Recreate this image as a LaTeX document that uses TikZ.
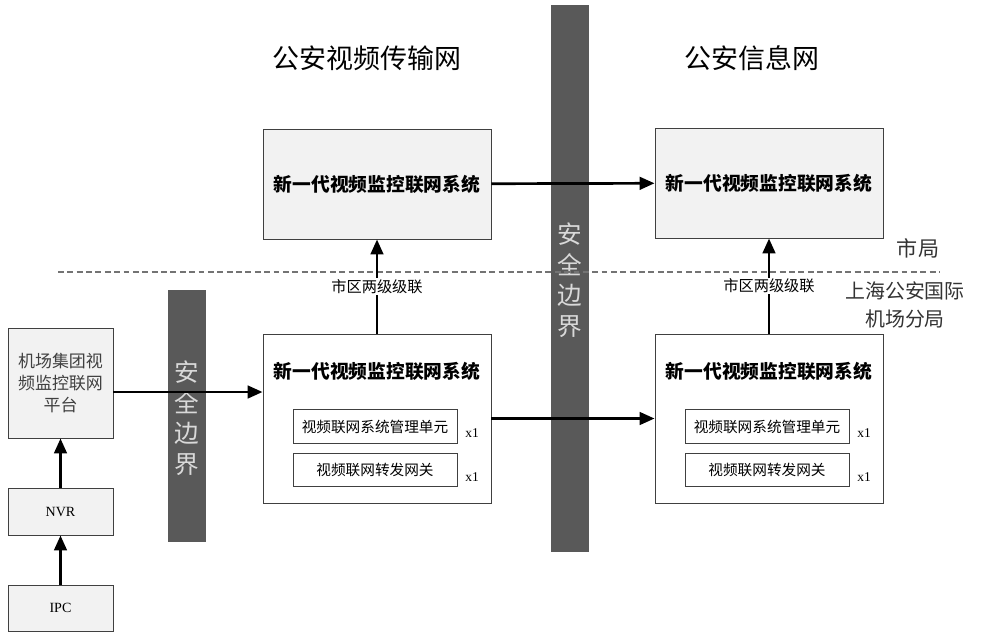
\documentclass[tikz,border=0pt]{standalone}
\usepackage{fontspec}
\setmainfont{Liberation Serif}
\newfontfamily\cjk{Noto Sans CJK SC}
\usetikzlibrary{arrows.meta}
\definecolor{boxgray}{HTML}{F2F2F2}
\definecolor{bargray}{HTML}{595959}
\definecolor{bartext}{HTML}{D9D9D9}
\begin{document}
\begin{tikzpicture}[x=0.03cm, y=-0.03cm,
  sys/.style={draw=black!75, line width=0.8pt, minimum width=6.84cm,
    font=\cjk\bfseries\fontsize{16}{18}\selectfont},
  sub/.style={draw=black!75, line width=0.8pt, minimum width=4.92cm, minimum height=1cm,
    font=\cjk\fontsize{12.5}{14}\selectfont},
  dev/.style={draw=black!75, line width=0.8pt, fill=boxgray, minimum width=3.15cm},
  bar/.style={fill=bargray},
  bartxt/.style={text=bartext, align=center, font=\cjk\fontsize{21}{26}\selectfont},
  arr/.style={line width=2.3pt, -{Triangle[length=0.45cm,width=0.38cm]}},
  lbl/.style={fill=white, inner sep=1pt, font=\cjk\fontsize{13}{15}\selectfont},
  cnt/.style={font=\fontsize{11.5}{13}\selectfont}
]
\useasboundingbox (0,0) rectangle (986,634);

% headings
\node[font=\cjk\fontsize{23}{26}\selectfont] (h1) at (367,58) {公安视频传输网};
\node[font=\cjk\fontsize{23}{26}\selectfont] (h2) at (752,58) {公安信息网};

% security boundaries
\fill[bar] (551,5) rectangle (589,552);
\node[bartxt] (b1) at (570,280) {安\\全\\边\\界};
\fill[bar] (168,290) rectangle (206,542);
\node[bartxt] (b2) at (187,418) {安\\全\\边\\界};

% level line
\draw[black!55, line width=0.9pt, dash pattern=on 5pt off 3pt] (58,272) -- (940,272);
\node[text=black!80, font=\cjk\fontsize{18}{20}\selectfont] (sj) at (918,248) {市局};
\node[text=black!80, align=center, font=\cjk\fontsize{17}{24}\selectfont] (fj) at (905,305) {上海公安国际\\机场分局};

% city level
\node[sys, fill=boxgray, minimum height=3.3cm] (tl) at (377,184) {新一代视频监控联网系统};
\node[sys, fill=boxgray, minimum height=3.3cm] (tr) at (769,183) {新一代视频监控联网系统};

% branch level
\node[sys, fill=white, minimum height=5.07cm] (bl) at (377,418.5) {};
\node[font=\cjk\bfseries\fontsize{16}{18}\selectfont] (blt) at (377,371) {新一代视频监控联网系统};
\node[sub] (bl1) at (375,426.5) {视频联网系统管理单元};
\node[sub] (bl2) at (375,470) {视频联网转发网关};
\node[cnt] (blc1) at (472,433) {x1};
\node[cnt] (blc2) at (472,477) {x1};

\node[sys, fill=white, minimum height=5.07cm] (br) at (769,418.5) {};
\node[font=\cjk\bfseries\fontsize{16}{18}\selectfont] (brt) at (769,371) {新一代视频监控联网系统};
\node[sub] (br1) at (767,426.5) {视频联网系统管理单元};
\node[sub] (br2) at (767,470) {视频联网转发网关};
\node[cnt] (brc1) at (864,433) {x1};
\node[cnt] (brc2) at (864,477) {x1};

% airport group
\node[dev, minimum height=3.3cm, align=center, text=black!75,
  font=\cjk\fontsize{14.5}{18.5}\selectfont] (pf) at (60.5,383) {机场集团视\\频监控联网\\平台};
\node[dev, minimum height=1.41cm, font=\fontsize{12}{14}\selectfont] (nvr) at (60.5,511.5) {NVR};
\node[dev, minimum height=1.38cm, font=\fontsize{12}{14}\selectfont] (ipc) at (60.5,608) {IPC};

% connections
\draw[arr] (ipc) -- (nvr);
\draw[arr] (nvr) -- (pf);
\draw[arr] ([yshift=-0.27cm]pf.east) -- ([yshift=-0.27cm]pf.east -| bl.west);
\draw[arr] (bl.east) -- (br.west);
\draw[arr] (tl) -- (tr);
\draw[arr] (bl) -- node[lbl] (c1) {市区两级级联} (tl);
\draw[arr] (br) -- node[lbl] (c2) {市区两级级联} (tr);
\end{tikzpicture}
\end{document}
